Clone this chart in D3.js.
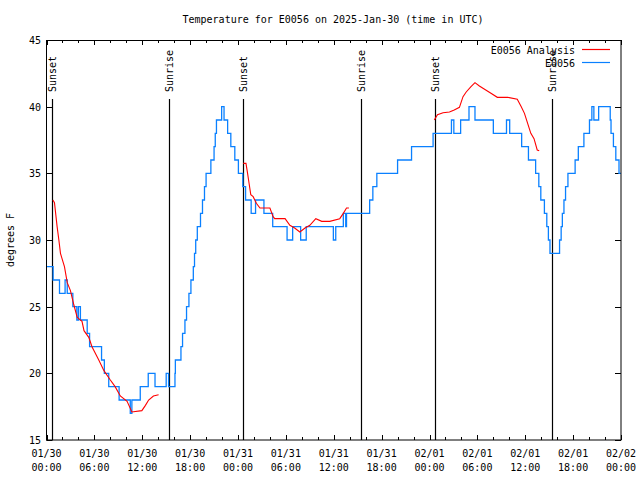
<!DOCTYPE html>
<html>
<head>
<meta charset="utf-8">
<script src="https://cdn.jsdelivr.net/npm/d3@7"></script>
<style>
  body { margin: 0; background: #fff; }
  text { font-family: "DejaVu Sans Mono", monospace; font-size: 10px; fill: #000; }
</style>
</head>
<body>
<div id="chart"></div>
<script>
// hours after 2025-01-30 00:00 UTC
var obsHours = [0, 0.83, 1.63, 2.33, 2.6, 3.3, 3.8, 4.0, 4.25, 5.1, 5.4, 6.9, 7.25, 7.8, 9.1, 10.5, 10.7,
    11.75, 12.75, 13.6, 15.0, 15.3, 16.1, 16.15, 16.2, 16.85, 17.05, 17.35, 17.55, 17.85, 18.1, 18.4,
    18.55, 18.7, 18.9, 19.3, 19.55, 19.8, 20.0, 20.6, 21.0, 21.15, 21.3, 21.95, 22.25, 22.7, 23.1, 23.6,
    24.05, 24.6, 24.95, 25.65, 26.2, 27.25, 28.35, 30.15, 30.85, 31.85, 32.55, 35.95, 36.25, 37.2, 37.5,
    37.6, 40.5, 40.9, 41.4, 44.0, 45.75, 48.45, 50.75, 51.05, 51.9, 52.95, 53.7, 56.0, 57.65, 58.05,
    59.55, 60.4, 61.3, 61.7, 61.95, 62.4, 62.7, 62.9, 63.1, 64.3, 64.5, 64.65, 64.85, 65.05, 65.35,
    66.25, 66.65, 67.35, 68.05, 68.35, 68.6, 69.2, 70.65, 70.75, 71.05, 71.35, 71.75, 72];
var obsTemps = [28, 27, 26, 27, 26, 25, 24, 25, 24, 23, 22, 21, 20, 19, 18, 17, 18,
    19, 20, 19, 20, 19, 20, 21, 21, 22, 23, 24, 25, 26, 27, 28,
    29, 30, 31, 32, 33, 34, 35, 36, 37, 38, 39, 40, 39, 38, 37, 36,
    35, 34, 33, 32, 33, 32, 31, 30, 31, 30, 31, 30, 31, 32, 31,
    32, 33, 34, 35, 36, 37, 38, 39, 38, 39, 40, 39, 38, 39, 38,
    37, 36, 35, 34, 33, 32, 31, 30, 29, 30, 31, 32, 33, 34, 35,
    36, 37, 38, 39, 40, 39, 40, 39, 38, 37, 36, 35, 35];

var anaHours = [
  [0.8, 1.0, 1.33, 1.55, 1.75, 1.9, 2.25, 2.6, 3.0, 3.4, 3.85, 4.45, 4.7, 5.3, 5.7, 6.55, 7.2, 8.0,
   8.6, 9.25, 10.1, 10.7, 11.95, 12.4, 12.8, 13.4, 14.05],
  [24.65, 25.0, 25.2, 25.4, 25.6, 25.9, 26.3, 26.75, 28.0, 28.4, 28.6, 29.9, 30.5, 31.1, 31.75, 32.4,
   33.0, 33.75, 34.5, 35.5, 36.75, 37.2, 37.6, 37.9],
  [48.6, 49.0, 49.7, 50.5, 51.1, 51.75, 52.2, 52.6, 53.2, 53.7, 54.25, 54.9, 55.7, 56.5, 57.8, 59.0,
   59.5, 59.9, 60.3, 60.7, 61.1, 61.5, 61.75]
];
var anaTemps = [
  [33.0, 32.8, 31.0, 30.0, 29.0, 28.7, 28.0, 26.8, 26.2, 25.2, 24.2, 23.9, 23.2, 22.7, 22.0, 21.0, 20.2,
   19.5, 19.0, 18.3, 17.9, 17.1, 17.2, 17.6, 18.0, 18.3, 18.4],
  [35.75, 35.75, 35.0, 34.2, 33.4, 33.25, 32.75, 32.4, 32.4, 31.75, 31.6, 31.6, 31.1, 30.9, 30.6, 30.9,
   31.1, 31.6, 31.4, 31.4, 31.6, 32.0, 32.4, 32.4],
  [39.0, 39.4, 39.55, 39.6, 39.75, 39.95, 40.75, 41.1, 41.5, 41.8, 41.55, 41.3, 41.0, 40.7, 40.7, 40.55,
   40.0, 39.5, 38.75, 38.0, 37.6, 36.75, 36.7]
];

var sunHours = [0.65, 15.4, 24.65, 39.4, 48.75, 63.4];
var sunLabels = ["Sunset", "Sunrise", "Sunset", "Sunrise", "Sunset", "Sunrise"];

var yTicks = [15, 20, 25, 30, 35, 40, 45];
var seriesNames = ["E0056 Analysis", "E0056"];
var seriesColors = ["#ff0000", "#0a80ff"];

(function() {
var t0 = Date.UTC(2025, 0, 30);
function toDate(h) { return new Date(t0 + h * 3600e3); }

var W = 640, H = 480;
var pl = 46.5, pr = 621, pt = 40, pb = 440;

var svg = d3.select("#chart").append("svg")
    .attr("width", W).attr("height", H);

var x = d3.scaleUtc()
    .domain([toDate(0), toDate(72)])
    .range([pl, pr]);
var y = d3.scaleLinear()
    .domain([15, 45])
    .range([pb, pt]);

// title
svg.append("text")
    .attr("x", 333).attr("y", 23)
    .attr("text-anchor", "middle")
    .text("Temperature for E0056 on 2025-Jan-30 (time in UTC)");

// y label
svg.append("text")
    .attr("transform", "translate(14,240) rotate(-90)")
    .attr("text-anchor", "middle")
    .text("degrees F");

// ticks
var minor = d3.utcHour.every(2).range(toDate(0), toDate(72.01));
var major = d3.utcHour.every(6).range(toDate(0), toDate(72.01));

var g = svg.append("g").attr("stroke", "#000").attr("stroke-width", 1);
g.selectAll(".xmin").data(minor).enter().append("path")
    .attr("d", function(d) {
        var px = Math.round(x(d)) + 0.5;
        return "M" + px + "," + pb + "V" + (pb - 3) + "M" + px + "," + pt + "V" + (pt + 3);
    });
g.selectAll(".xmaj").data(major).enter().append("path")
    .attr("d", function(d) {
        var px = Math.round(x(d)) + 0.5;
        return "M" + px + "," + pb + "V" + (pb - 5) + "M" + px + "," + pt + "V" + (pt + 5);
    });
g.selectAll(".ytk").data(yTicks).enter().append("path")
    .attr("d", function(d) {
        var py = Math.round(y(d)) + 0.5;
        return "M" + pl + "," + py + "H" + (pl + 6) + "M" + pr + "," + py + "H" + (pr - 6);
    });

// x labels
var fmtDay = d3.utcFormat("%m/%d"), fmtTime = d3.utcFormat("%H:%M");
var xl = svg.selectAll(".xl").data(major).enter().append("text")
    .attr("text-anchor", "middle")
    .attr("x", function(d) { return x(d); })
    .attr("y", 457);
xl.append("tspan").attr("x", function(d) { return x(d); }).text(function(d) { return fmtDay(d); });
xl.append("tspan").attr("x", function(d) { return x(d); }).attr("dy", 14).text(function(d) { return fmtTime(d); });

// y labels
svg.selectAll(".yl").data(yTicks).enter().append("text")
    .attr("text-anchor", "end")
    .attr("x", 41)
    .attr("y", function(d) { return y(d) + 4; })
    .text(function(d) { return d; });

// sunrise / sunset
svg.selectAll(".sun").data(sunHours).enter().append("line")
    .attr("x1", function(d) { return Math.round(x(toDate(d))) + 0.5; })
    .attr("x2", function(d) { return Math.round(x(toDate(d))) + 0.5; })
    .attr("y1", 99).attr("y2", pb)
    .attr("stroke", "#000").attr("stroke-width", 1.2);
svg.selectAll(".sunl").data(sunHours).enter().append("text")
    .attr("transform", function(d) {
        return "translate(" + (x(toDate(d)) + 4) + ",92) rotate(-90)";
    })
    .text(function(d, i) { return sunLabels[i]; });

// series
svg.append("clipPath").attr("id", "clip").append("rect")
    .attr("x", pl).attr("y", pt).attr("width", pr - pl).attr("height", pb - pt);

var obsLine = d3.line()
    .x(function(d, i) { return x(toDate(obsHours[i])); })
    .y(function(d) { return y(d); })
    .curve(d3.curveStepAfter);
svg.append("path")
    .attr("clip-path", "url(#clip)")
    .attr("d", obsLine(obsTemps))
    .attr("fill", "none")
    .attr("stroke", seriesColors[1])
    .attr("stroke-width", 1.3);

anaTemps.forEach(function(seg, k) {
    var line = d3.line()
        .x(function(d, i) { return x(toDate(anaHours[k][i])); })
        .y(function(d) { return y(d); });
    svg.append("path")
        .attr("d", line(seg))
        .attr("fill", "none")
        .attr("stroke", seriesColors[0])
        .attr("stroke-width", 1.1);
});

// legend
seriesNames.forEach(function(name, i) {
    var ly = 50 + i * 13;
    svg.append("text")
        .attr("x", 575).attr("y", ly + 4)
        .attr("text-anchor", "end")
        .text(name);
    svg.append("line")
        .attr("x1", 582).attr("x2", 610)
        .attr("y1", ly - 0.5).attr("y2", ly - 0.5)
        .attr("stroke", seriesColors[i]).attr("stroke-width", 1.2);
});

// frame
svg.append("rect")
    .attr("x", pl).attr("y", pt + 0.5)
    .attr("width", pr - pl).attr("height", pb - pt - 0.5)
    .attr("fill", "none").attr("stroke", "#000").attr("stroke-width", 1);
})();
</script>
</body>
</html>
